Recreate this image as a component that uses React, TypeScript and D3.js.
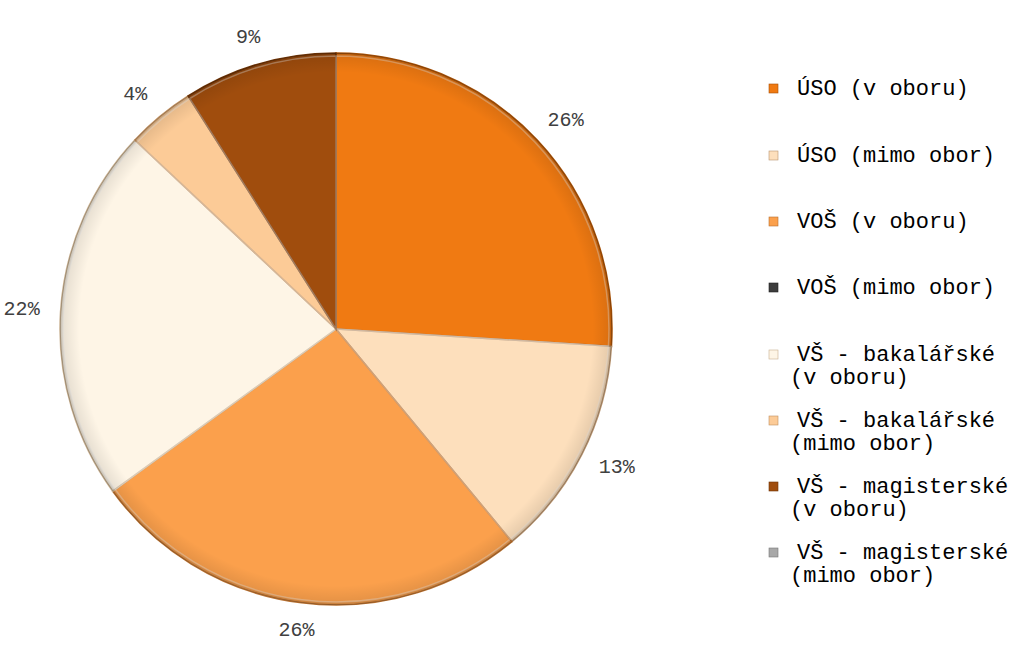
import React from "react";
import * as d3 from "d3";

const categories = [
  "ÚSO (v oboru)",
  "ÚSO (mimo obor)",
  "VOŠ (v oboru)",
  "VOŠ (mimo obor)",
  "VŠ - bakalářské (v oboru)",
  "VŠ - bakalářské (mimo obor)",
  "VŠ - magisterské (v oboru)",
  "VŠ - magisterské (mimo obor)",
];
const legendLines = [
  ["ÚSO (v oboru)"],
  ["ÚSO (mimo obor)"],
  ["VOŠ (v oboru)"],
  ["VOŠ (mimo obor)"],
  ["VŠ - bakalářské", "(v oboru)"],
  ["VŠ - bakalářské", "(mimo obor)"],
  ["VŠ - magisterské", "(v oboru)"],
  ["VŠ - magisterské", "(mimo obor)"],
];
const values = [26, 13, 26, 0, 22, 4, 9, 0];
const colors = ["#F07A12", "#FDDFBC", "#FBA04C", "#3C3C3C", "#FEF5E6", "#FCCB97", "#A04D0D", "#A8A8A8"];
const strokes = ["#A85208", "#B89470", "#B87030", "#222", "#C8B090", "#C09060", "#6E3306", "#777"];
const legendY = [89, 156, 222, 288, 355, 421, 487, 553];

export default function App() {
  const cx = 336, cy = 329, r = 276;
  const pie = d3.pie<number>().sort(null).value((d) => d)(values);
  const arc = d3.arc<d3.PieArcDatum<number>>().innerRadius(0).outerRadius(r);
  const innerArc = d3.arc<d3.PieArcDatum<number>>().innerRadius(0).outerRadius(r - 3);
  const gap = 21, hw = 18, hh = 7;
  const font = "Courier New, Liberation Mono, Cousine, DejaVu Sans Mono, monospace";
  return (
    <svg width={1024} height={659} style={{ position: "absolute", left: 0, top: 0 }}>
      <defs>
        <radialGradient id="shade" cx="0" cy="0" r={r} gradientUnits="userSpaceOnUse">
          <stop offset="0.93" stopColor="#000" stopOpacity={0} />
          <stop offset="0.985" stopColor="#000" stopOpacity={0.08} />
          <stop offset="1" stopColor="#000" stopOpacity={0.25} />
        </radialGradient>
      </defs>
      <rect width={1024} height={659} fill="#fff" />
      <g transform={`translate(${cx},${cy})`}>
        {pie.map((p, i) =>
          p.value > 0 ? (
            <g key={i}>
              <path d={arc(p) || ""} fill={colors[i]} stroke={strokes[i]} strokeWidth={1.5} />
              <path d={innerArc(p) || ""} fill="none" stroke="#fff" strokeOpacity={0.35} strokeWidth={1.5} />
              <path d={arc(p) || ""} fill="url(#shade)" />
            </g>
          ) : null
        )}
        {pie.map((p, i) => {
          if (p.value <= 0) return null;
          const a = (p.startAngle + p.endAngle) / 2;
          const s = Math.sin(a), c = Math.cos(a);
          const x = (r + gap) * s + hw * s;
          const y = -(r + gap) * c - hh * c;
          return (
            <text key={"l" + i} x={x} y={y} textAnchor="middle" dominantBaseline="central"
              style={{ fontFamily: font }} fontSize={20} fill="#404040">
              {p.value}%
            </text>
          );
        })}
      </g>
      {legendLines.map((lines, i) => (
        <g key={"lg" + i}>
          <rect x={769} y={legendY[i] - 5} width={9} height={9} fill={colors[i]} stroke={strokes[i]} strokeWidth={0.6} />
          {lines.map((t, j) => (
            <text key={j} x={j === 0 ? 797 : 790} y={legendY[i] + j * 23} dominantBaseline="central"
              style={{ fontFamily: font }} fontSize={22} fill="#000">
              {t}
            </text>
          ))}
        </g>
      ))}
    </svg>
  );
}
